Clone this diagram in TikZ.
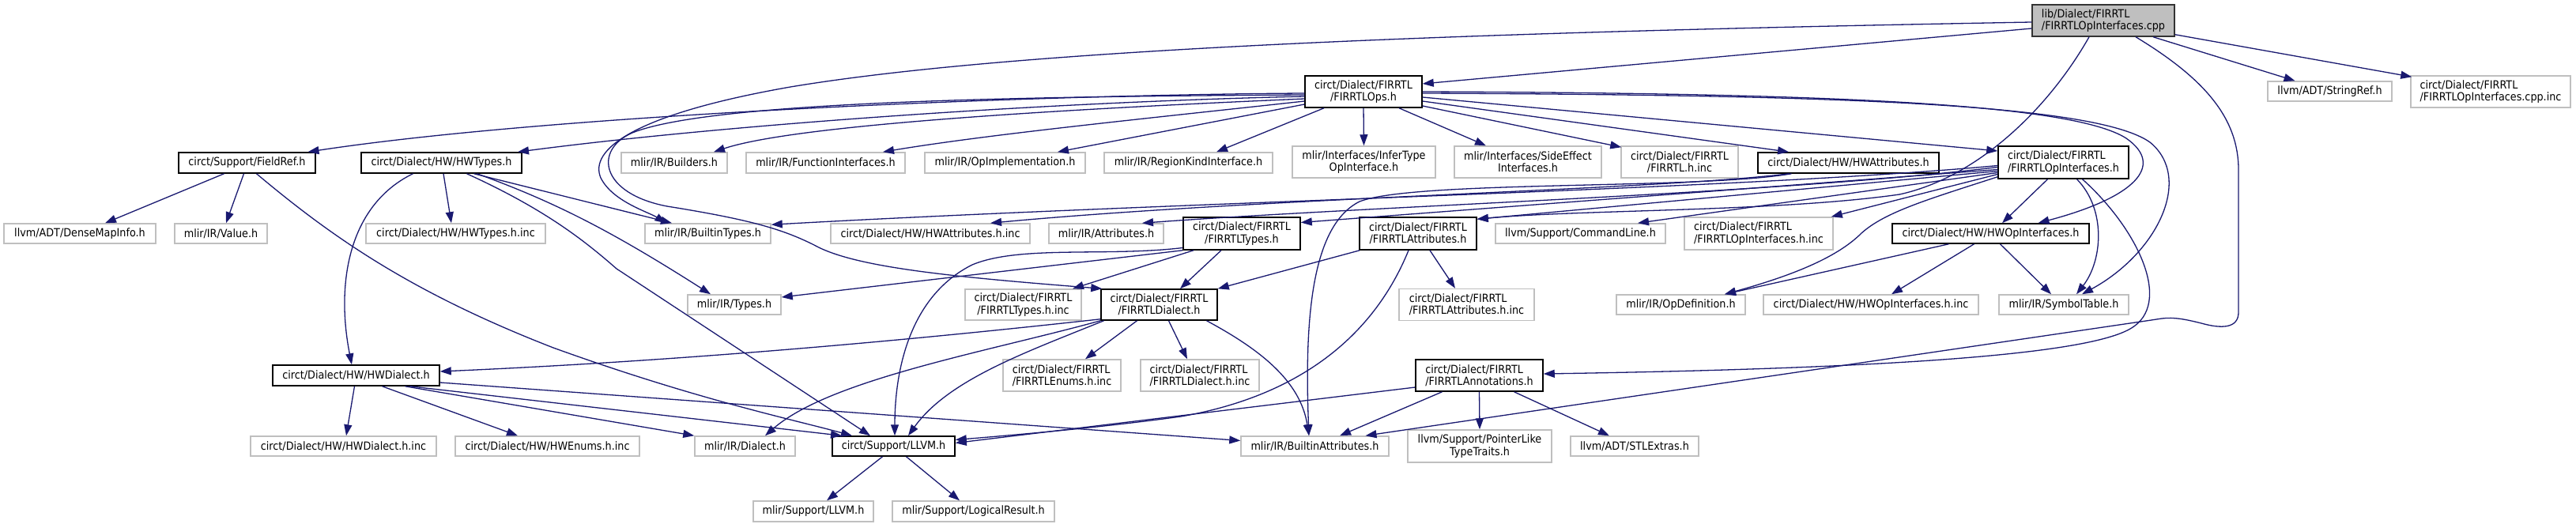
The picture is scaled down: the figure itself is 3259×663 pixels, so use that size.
\documentclass[tikz,border=0pt]{standalone}
\usepackage{fontspec}
\usetikzlibrary{arrows.meta}
\newfontfamily\dfont{DejaVu Sans}[FakeStretch=0.9]
\definecolor{edgeblue}{HTML}{191970}
\definecolor{leafgray}{HTML}{BFBFBF}
\tikzset{
 box/.style={draw, rectangle, inner sep=0pt, line width=1.5pt, font=\dfont\fontsize{14.2}{15.3}\selectfont, align=center},
 doc/.style={box, draw=black, fill=white},
 leaf/.style={box, draw=leafgray, fill=white},
 rootbox/.style={box, draw=black!80, fill=leafgray},
 e/.style={draw=edgeblue, line width=1.3pt, -{Triangle[length=14pt,width=10pt]}},
}
\begin{document}
\begin{tikzpicture}[x=1pt,y=-1pt]
\fill[white] (0,0) rectangle (3259,663);
\useasboundingbox (0,0) rectangle (3259,663);
% nodes
\node[rootbox, minimum width=180pt, minimum height=40pt, align=left] (cpp) at (2661,26) {lib/Dialect/FIRRTL\\/FIRRTLOpInterfaces.cpp};
\node[doc, minimum width=148pt, minimum height=40pt] (ops) at (1725,116) {circt/Dialect/FIRRTL\\/FIRRTLOps.h};
\node[leaf, minimum width=157pt, minimum height=25pt] (strref) at (2947.5,115.5) {llvm/ADT/StringRef.h};
\node[leaf, minimum width=202pt, minimum height=40pt, align=left] (cppinc) at (3151,116) {circt/Dialect/FIRRTL\\/FIRRTLOpInterfaces.cpp.inc};
\node[doc, minimum width=173pt, minimum height=26pt] (fieldref) at (312.5,206) {circt/Support/FieldRef.h};
\node[doc, minimum width=203pt, minimum height=26pt] (hwtypes) at (558.5,206) {circt/Dialect/HW/HWTypes.h};
\node[leaf, minimum width=134pt, minimum height=26pt] (builders) at (853,206) {mlir/IR/Builders.h};
\node[leaf, minimum width=201pt, minimum height=26pt] (funcif) at (1044.5,206) {mlir/IR/FunctionInterfaces.h};
\node[leaf, minimum width=203pt, minimum height=26pt] (opimpl) at (1271.5,206) {mlir/IR/OpImplementation.h};
\node[leaf, minimum width=213pt, minimum height=26pt] (regionkind) at (1503.5,206) {mlir/IR/RegionKindInterface.h};
\node[leaf, minimum width=181pt, minimum height=40pt] (infertype) at (1725.5,205) {mlir/Interfaces/InferType\\OpInterface.h};
\node[leaf, minimum width=186pt, minimum height=40pt] (sideeffect) at (1933,205) {mlir/Interfaces/SideEffect\\Interfaces.h};
\node[leaf, minimum width=148pt, minimum height=40pt] (firrtlhinc) at (2125,205) {circt/Dialect/FIRRTL\\/FIRRTL.h.inc};
\node[doc, minimum width=229pt, minimum height=26pt] (hwattr) at (2338.5,206) {circt/Dialect/HW/HWAttributes.h};
\node[doc, minimum width=165pt, minimum height=41pt, align=left] (opifh) at (2610.5,205.5) {circt/Dialect/FIRRTL\\/FIRRTLOpInterfaces.h};
\node[leaf, minimum width=192pt, minimum height=25pt] (densemap) at (101,295.5) {llvm/ADT/DenseMapInfo.h};
\node[leaf, minimum width=117pt, minimum height=25pt] (value) at (279.5,295.5) {mlir/IR/Value.h};
\node[leaf, minimum width=227pt, minimum height=25pt] (hwtypesinc) at (576.5,295.5) {circt/Dialect/HW/HWTypes.h.inc};
\node[leaf, minimum width=159pt, minimum height=25pt] (builtintypes) at (895.5,295.5) {mlir/IR/BuiltinTypes.h};
\node[leaf, minimum width=252pt, minimum height=25pt] (hwattrinc) at (1177,295.5) {circt/Dialect/HW/HWAttributes.h.inc};
\node[leaf, minimum width=145pt, minimum height=25pt] (attributes) at (1399.5,295.5) {mlir/IR/Attributes.h};
\node[doc, minimum width=148pt, minimum height=41pt] (firrtltypes) at (1571,295.5) {circt/Dialect/FIRRTL\\/FIRRTLTypes.h};
\node[doc, minimum width=148pt, minimum height=41pt] (firrtlattr) at (1794,295.5) {circt/Dialect/FIRRTL\\/FIRRTLAttributes.h};
\node[leaf, minimum width=215pt, minimum height=25pt] (cmdline) at (1999.5,295.5) {llvm/Support/CommandLine.h};
\node[leaf, minimum width=188pt, minimum height=41pt, align=left] (opifhinc) at (2225,295.5) {circt/Dialect/FIRRTL\\/FIRRTLOpInterfaces.h.inc};
\node[doc, minimum width=249pt, minimum height=25pt] (hwopif) at (2518.5,295.5) {circt/Dialect/HW/HWOpInterfaces.h};
\node[leaf, minimum width=118pt, minimum height=25pt] (types) at (929,385.5) {mlir/IR/Types.h};
\node[leaf, minimum width=147pt, minimum height=39pt] (firrtltypesinc) at (1294.5,385.5) {circt/Dialect/FIRRTL\\/FIRRTLTypes.h.inc};
\node[doc, minimum width=147pt, minimum height=39pt] (firrtldialect) at (1466.5,385.5) {circt/Dialect/FIRRTL\\/FIRRTLDialect.h};
\node[leaf, minimum width=171pt, minimum height=40pt, align=left] (firrtlattrinc) at (1855.5,385.5) {circt/Dialect/FIRRTL\\/FIRRTLAttributes.h.inc};
\node[leaf, minimum width=163pt, minimum height=25pt] (opdef) at (2126.5,385.5) {mlir/IR/OpDefinition.h};
\node[leaf, minimum width=272pt, minimum height=25pt] (hwopifinc) at (2367,385.5) {circt/Dialect/HW/HWOpInterfaces.h.inc};
\node[leaf, minimum width=164pt, minimum height=25pt] (symtab) at (2611,385.5) {mlir/IR/SymbolTable.h};
\node[doc, minimum width=211pt, minimum height=26pt] (hwdialect) at (450.5,475) {circt/Dialect/HW/HWDialect.h};
\node[leaf, minimum width=149pt, minimum height=40pt, align=left] (firrtlenumsinc) at (1343.5,475) {circt/Dialect/FIRRTL\\/FIRRTLEnums.h.inc};
\node[leaf, minimum width=150pt, minimum height=40pt, align=left] (firrtldialecthinc) at (1518,475) {circt/Dialect/FIRRTL\\/FIRRTLDialect.h.inc};
\node[doc, minimum width=161pt, minimum height=40pt, align=left] (annotations) at (1871.5,475) {circt/Dialect/FIRRTL\\/FIRRTLAnnotations.h};
\node[leaf, minimum width=235pt, minimum height=25pt] (hwdialecthinc) at (434.5,564.5) {circt/Dialect/HW/HWDialect.h.inc};
\node[leaf, minimum width=233pt, minimum height=25pt] (hwenumsinc) at (692.5,564.5) {circt/Dialect/HW/HWEnums.h.inc};
\node[leaf, minimum width=127pt, minimum height=25pt] (dialect) at (942.5,564.5) {mlir/IR/Dialect.h};
\node[doc, minimum width=155pt, minimum height=25pt] (llvm) at (1130.5,564.5) {circt/Support/LLVM.h};
\node[leaf, minimum width=187pt, minimum height=25pt] (battr) at (1663.5,564.5) {mlir/IR/BuiltinAttributes.h};
\node[leaf, minimum width=182pt, minimum height=41pt] (pointerlike) at (1872,564.5) {llvm/Support/PointerLike\\TypeTraits.h};
\node[leaf, minimum width=162pt, minimum height=25pt] (stlextras) at (2068,564.5) {llvm/ADT/STLExtras.h};
\node[leaf, minimum width=152pt, minimum height=26pt] (mlirllvm) at (1029,647) {mlir/Support/LLVM.h};
\node[leaf, minimum width=205pt, minimum height=26pt] (logicalresult) at (1231.5,647) {mlir/Support/LogicalResult.h};
% edges from cpp
\draw[e] ([yshift=-10pt]cpp.west) -- ([yshift=10pt]ops.east);
\draw[e] ([xshift=63pt]cpp.south) -- ([xshift=-44pt]strref.north);
\draw[e] ([yshift=3pt]cpp.south east) -- ([xshift=2pt,yshift=-2pt]cppinc.north west);
\draw[e] ([xshift=41pt]cpp.south) .. controls (2790,100) and (2832,150) .. (2832,215) -- (2832,395) .. controls (2832,416) and (2810,416) .. (2785,409) .. controls (2765,404) and (2750,401) .. (2735,403) .. controls (2728,404) and (2722,405) .. (2715,406) -- ([xshift=64pt]battr.north);
\draw[e] ([xshift=-18pt]cpp.south) .. controls (2590,140) and (2500,225) .. (2403,246) .. controls (2250,268) and (2000,265) .. ([yshift=-3pt]firrtlattr.north east);
\draw[e] ([yshift=-2pt]cpp.west) .. controls (1900,40) and (1300,60) .. (1000,110) .. controls (800,145) and (745,190) .. (760,225) .. controls (775,255) and (820,268) .. ([xshift=-53pt]builtintypes.north);
% edges from ops
\draw[e] (ops.south) -- (infertype.north);
\draw[e] ([xshift=-50pt]ops.south) -- ([xshift=35.5pt]regionkind.north);
\draw[e] ([yshift=-16pt]ops.west) -- ([xshift=66.5pt]opimpl.north);
\draw[e] ([yshift=-12pt]ops.west) .. controls (1450,150) and (1250,170) .. ([xshift=72.5pt]funcif.north);
\draw[e] ([yshift=-9pt]ops.west) .. controls (1300,140) and (1000,160) .. ([xshift=50pt]builders.north);
\draw[e] ([yshift=-6pt]ops.west) .. controls (1300,130) and (900,160) .. ([xshift=96.5pt]hwtypes.north);
\draw[e] ([yshift=-2pt]ops.west) .. controls (1300,120) and (700,145) .. ([xshift=77pt]fieldref.north);
\draw[e] ([yshift=-4pt]ops.west) .. controls (1300,122) and (900,128) .. (800,168) .. controls (750,190) and (760,245) .. (844,261) .. controls (950,278) and (990,290) .. (1030,310) .. controls (1080,338) and (1200,350) .. ([xshift=2pt]firrtldialect.north west);
\draw[e] ([yshift=-18pt]ops.east) -- ([xshift=1pt,yshift=-2pt]firrtlhinc.north west);
\draw[e] ([xshift=45pt]ops.south) -- ([xshift=-53pt]sideeffect.north);
\draw[e] ([yshift=-12pt]ops.east) -- ([xshift=-75.5pt]hwattr.north);
\draw[e] ([yshift=-7pt]ops.east) -- ([yshift=14.5pt]opifh.west);
\draw[e] (ops.east) .. controls (2300,118) and (2620,130) .. (2690,175) .. controls (2740,210) and (2700,250) .. ([xshift=60pt]hwopif.north);
\draw[e] ([yshift=-2pt]ops.east) .. controls (2300,120) and (2650,130) .. (2720,180) .. controls (2775,225) and (2730,320) .. ([xshift=23pt]symtab.north);
% edges from FIRRTLOpInterfaces.h
\draw[e] ([xshift=-20pt]opifh.south) -- ([xshift=14.5pt]hwopif.north);
\draw[e] ([xshift=17pt]opifh.south) .. controls (2665,265) and (2660,330) .. ([xshift=16pt]symtab.north);
\draw[e] ([xshift=24pt]opifh.south) .. controls (2705,290) and (2750,385) .. (2695,416) .. controls (2640,448) and (2400,466) .. ([yshift=2pt]annotations.east);
\draw[e] ([yshift=3pt]opifh.south west) .. controls (2440,252) and (2385,268) .. (2355,295) .. controls (2325,325) and (2270,348) .. ([xshift=55.5pt]opdef.north);
\draw[e] ([yshift=-9pt]opifh.west) -- ([yshift=14pt]firrtltypes.east);
\draw[e] ([yshift=-11pt]opifh.west) -- ([yshift=-3pt]firrtlattr.north east);
\draw[e] ([yshift=-13pt]opifh.west) -- ([xshift=72.5pt]cmdline.north);
\draw[e] ([yshift=-15pt]opifh.west) -- ([xshift=-3pt]opifhinc.north east);
\draw[e] ([yshift=-6pt]opifh.west) .. controls (2250,245) and (1750,260) .. ([xshift=45.5pt]attributes.north);
\draw[e] ([yshift=-4pt]opifh.west) .. controls (2200,240) and (1500,255) .. ([yshift=-2pt]builtintypes.north east);
% edges from HWAttributes.h
\draw[e] ([xshift=-75pt]hwattr.south) .. controls (2100,240) and (1600,250) .. ([xshift=76pt]hwattrinc.north);
\draw[e] ([xshift=-72pt]hwattr.south) .. controls (2150,240) and (1790,228) .. (1720,255) .. controls (1660,285) and (1650,400) .. ([xshift=-7.5pt]battr.north);
% edges from FIRRTLTypes.h
\draw[e] ([xshift=-26pt]firrtltypes.south) -- ([xshift=26.5pt]firrtldialect.north);
\draw[e] ([xshift=-61pt]firrtltypes.south) -- ([xshift=62.5pt]firrtltypesinc.north);
\draw[e] (firrtltypes.south west) -- ([yshift=9.5pt]types.east);
\draw[e] ([yshift=-18pt]firrtltypes.west) .. controls (1400,325) and (1290,310) .. (1230,335) .. controls (1150,375) and (1132,470) .. ([xshift=1.5pt]llvm.north);
% edges from FIRRTLAttributes.h
\draw[e] ([xshift=1pt]firrtlattr.south west) -- (firrtldialect.north east);
\draw[e] ([xshift=15pt]firrtlattr.south) -- ([xshift=-14.5pt]firrtlattrinc.north);
\draw[e] ([xshift=-12pt]firrtlattr.south) .. controls (1740,420) and (1650,500) .. (1494,527) .. controls (1400,540) and (1300,549) .. ([yshift=8pt]llvm.east);
% edges from FIRRTLAnnotations.h
\draw[e] ([xshift=-47pt]annotations.south) -- ([xshift=31.5pt]battr.north);
\draw[e] (annotations.south) -- (pointerlike.north);
\draw[e] ([xshift=44pt]annotations.south) -- ([xshift=-32pt]stlextras.north);
\draw[e] ([yshift=-15pt]annotations.west) -- ([yshift=4pt]llvm.east);
% edges from FIRRTLDialect.h
\draw[e] ([xshift=-28pt]firrtldialect.south) -- ([xshift=29.5pt]firrtlenumsinc.north);
\draw[e] ([xshift=12pt]firrtldialect.south) -- ([xshift=-16pt]firrtldialecthinc.north);
\draw[e] ([xshift=60pt]firrtldialect.south) .. controls (1590,440) and (1645,480) .. ([xshift=-7.5pt]battr.north);
\draw[e] ([xshift=-70pt]firrtldialect.south) .. controls (1300,445) and (1200,480) .. ([xshift=18.5pt]llvm.north);
\draw[e] (firrtldialect.south west) .. controls (1250,445) and (1050,480) .. ([xshift=25.5pt]dialect.north);
\draw[e] ([yshift=2pt]firrtldialect.south west) .. controls (1200,425) and (900,455) .. ([yshift=5pt]hwdialect.east);
% edges from HWDialect.h
\draw[e] ([xshift=-2pt]hwdialect.south) -- ([xshift=3.5pt]hwdialecthinc.north);
\draw[e] ([xshift=33pt]hwdialect.south) -- ([xshift=-37.5pt]hwenumsinc.north);
\draw[e] ([xshift=62pt]hwdialect.south) -- (dialect.north west);
\draw[e] ([xshift=68pt]hwdialect.south) -- ([xshift=-65.5pt]llvm.north);
\draw[e] ([yshift=-9pt]hwdialect.east) -- ([yshift=7pt]battr.west);
% edges from HWTypes.h
\draw[e] ([xshift=2.5pt]hwtypes.south) -- ([xshift=-5.5pt]hwtypesinc.north);
\draw[e] ([xshift=-36pt]hwtypes.south) .. controls (440,260) and (425,360) .. ([xshift=-5.5pt]hwdialect.north);
\draw[e] ([xshift=41pt]hwtypes.south) -- ([xshift=-45.5pt]builtintypes.north);
\draw[e] ([xshift=45pt]hwtypes.south) .. controls (700,255) and (770,290) .. ([xshift=-30pt]types.north);
\draw[e] ([xshift=32pt]hwtypes.south) .. controls (690,265) and (740,305) .. (780,340) -- ([xshift=-29.5pt]llvm.north);
% edges from FieldRef.h
\draw[e] ([xshift=-29pt]fieldref.south) -- ([xshift=32pt]densemap.north);
\draw[e] ([xshift=-4pt]fieldref.south) -- ([xshift=6.5pt]value.north);
\draw[e] ([xshift=12pt]fieldref.south) .. controls (420,300) and (520,370) .. (700,440) .. controls (880,505) and (1000,530) .. ([xshift=-52.5pt]llvm.north);
% edges from circt/Support/LLVM.h
\draw[e] ([xshift=-14pt]llvm.south) -- ([xshift=17pt]mlirllvm.north);
\draw[e] ([xshift=16pt]llvm.south) -- ([xshift=-17.5pt]logicalresult.north);
% edges from HWOpInterfaces.h
\draw[e] ([xshift=-53pt]hwopif.south) -- ([xshift=55.5pt]opdef.north);
\draw[e] ([xshift=-21pt]hwopif.south) -- ([xshift=26pt]hwopifinc.north);
\draw[e] ([xshift=12pt]hwopif.south) -- ([xshift=-16pt]symtab.north);
\end{tikzpicture}
\end{document}
